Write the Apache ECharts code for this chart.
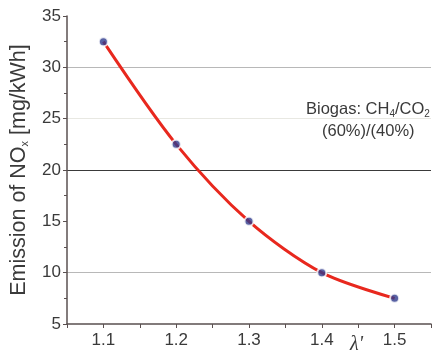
<!DOCTYPE html>
<html>
<head>
<meta charset="utf-8">
<script src="https://cdn.jsdelivr.net/npm/echarts@6/dist/echarts.min.js"></script>
<style>
  html, body { margin: 0; padding: 0; background: #fff; }
  #chart { width: 440px; height: 356px; }
</style>
</head>
<body>
<div id="chart"></div>
<script>
// Excess air ratio values and measured NOx emission
const lambdaValues = [1.1, 1.2, 1.3, 1.4, 1.5];
const noxEmission = [32.5, 22.5, 15, 10, 7.5];
const yTicks = [5, 10, 15, 20, 25, 30, 35];

const points = lambdaValues.map((x, i) => [x, noxEmission[i]]);

// Grid line colour per y tick (5 ... 35)
const gridColors = ['rgba(0,0,0,0)', '#b8b8b8', 'rgba(0,0,0,0)', '#3a3a3a', '#e8e8e2', '#b8b8b8', 'rgba(0,0,0,0)'];

const chart = echarts.init(document.getElementById('chart'));
const font = 'Liberation Sans, Arial, sans-serif';
const ink = '#3a3a3a';

chart.setOption({
  animation: false,
  grid: { left: 64, top: 16, right: 9, bottom: 32 },
  xAxis: {
    type: 'value',
    min: 1.05,
    max: 1.55,
    interval: 0.05,
    axisLine: { lineStyle: { color: '#5a5050', width: 1.5 } },
    axisTick: { length: 4, lineStyle: { color: '#5a5050' } },
    axisLabel: {
      color: ink, fontSize: 17, fontFamily: font, margin: 8,
      formatter: v => {
        const k = Math.round(v * 100);
        return (k % 10 === 0 && k > 105 && k < 155) ? (k / 100).toFixed(1) : '';
      }
    },
    splitLine: { show: false }
  },
  yAxis: {
    type: 'value',
    min: yTicks[0],
    max: yTicks[yTicks.length - 1],
    interval: 5,
    axisLine: { show: true, lineStyle: { color: '#5a5050', width: 1.5 } },
    axisTick: { show: true, length: 4, lineStyle: { color: '#5a5050' } },
    minorTick: { show: true, splitNumber: 2, length: 3, lineStyle: { color: '#5a5050' } },
    axisLabel: { color: ink, fontSize: 17, fontFamily: font, margin: 6 },
    splitLine: { show: true, lineStyle: { color: gridColors, width: 1.2 } },
    name: '{t|Emission of NO}{s|x}{t| [mg/kWh]}',
    nameLocation: 'middle',
    nameGap: 37,
    nameRotate: 90,
    nameTextStyle: {
      rich: {
        t: { fontSize: 21.5, color: ink, fontFamily: font },
        s: { fontSize: 11, color: ink, fontFamily: font, padding: [11, 0, 0, 0] }
      }
    }
  },
  graphic: [
    {
      type: 'text',
      left: 306, top: 101,
      style: {
        text: '{t|Biogas: CH}{s|4}{t|/CO}{s|2}',
        rich: {
          t: { fontSize: 16.5, fill: ink, fontFamily: font },
          s: { fontSize: 10, fill: ink, fontFamily: font, padding: [10, 0, 0, 0] }
        }
      }
    },
    {
      type: 'text',
      left: 322, top: 123,
      style: { text: '(60%)/(40%)', fontSize: 16.5, fill: ink, fontFamily: font }
    },
    {
      type: 'text',
      left: 350, top: 335,
      style: { text: "λ'", fontSize: 20, fill: ink, fontFamily: 'Liberation Serif, serif', fontStyle: 'italic' }
    }
  ],
  series: [
    {
      type: 'line',
      data: points,
      smooth: 0.3,
      symbol: 'none',
      lineStyle: { color: '#e8281e', width: 3 },
      z: 2
    },
    {
      type: 'scatter',
      data: points,
      symbol: 'circle',
      symbolSize: 9,
      itemStyle: { color: '#2e3a8c', borderColor: '#fff', borderWidth: 2 },
      z: 3
    }
  ]
});
</script>
</body>
</html>
